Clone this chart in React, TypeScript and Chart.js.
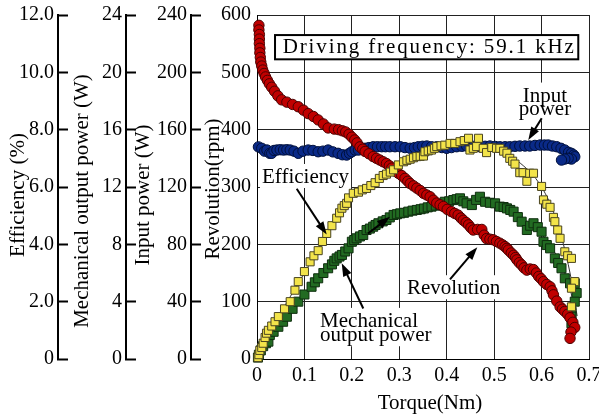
import React, { useEffect, useRef } from 'react';
import { Chart, registerables } from 'chart.js';

Chart.register(...registerables);

const FONT = "'Liberation Serif', 'Times New Roman', serif";

// ---------- tick labels ----------
const torqueTickLabels = ['0', '0.1', '0.2', '0.3', '0.4', '0.5', '0.6', '0.7'];
const efficiencyTickLabels = ['0', '2.0', '4.0', '6.0', '8.0', '10.0', '12.0'];
const mechTickLabels = ['0', '4', '8', '12', '16', '20', '24'];
const inputTickLabels = ['0', '40', '80', '120', '160', '200', '240'];
const revTickLabels = ['0', '100', '200', '300', '400', '500', '600'];

// ---------- measured data: [torque (Nm), value] ----------
const revolutionData: [number, number][] = [
  [0.004, 582], [0.004, 574], [0.005, 566], [0.005, 558], [0.005, 550], [0.006, 542], [0.006, 534],
  [0.007, 526], [0.008, 518], [0.010, 511], [0.012, 504], [0.015, 498], [0.018, 492], [0.022, 486],
  [0.026, 480], [0.031, 474], [0.037, 467], [0.044, 459], [0.052, 452], [0.063, 448], [0.075, 444],
  [0.087, 440], [0.098, 434], [0.108, 428], [0.119, 423], [0.129, 417], [0.140, 410], [0.150, 403],
  [0.163, 401], [0.172, 400], [0.180, 398], [0.187, 396], [0.194, 392], [0.200, 387], [0.206, 382],
  [0.211, 377], [0.217, 370], [0.223, 366], [0.228, 362], [0.236, 358], [0.245, 353], [0.252, 350],
  [0.259, 347], [0.266, 344], [0.273, 341], [0.279, 337], [0.284, 333], [0.291, 328], [0.298, 324],
  [0.305, 320], [0.312, 315], [0.318, 310], [0.323, 306], [0.330, 302], [0.337, 298], [0.344, 294],
  [0.351, 289], [0.358, 286], [0.365, 283], [0.372, 277], [0.379, 272], [0.386, 269], [0.393, 266],
  [0.401, 261], [0.410, 257], [0.417, 254], [0.424, 251], [0.430, 246], [0.435, 242], [0.441, 238],
  [0.446, 234], [0.451, 229], [0.456, 225], [0.465, 226], [0.474, 226], [0.479, 216], [0.484, 210],
  [0.491, 209], [0.498, 208], [0.505, 205], [0.512, 202], [0.518, 199], [0.523, 196], [0.527, 193],
  [0.530, 190], [0.536, 185], [0.541, 181], [0.545, 177], [0.548, 173], [0.553, 168], [0.558, 164],
  [0.563, 159], [0.569, 155], [0.576, 157], [0.583, 156], [0.589, 150], [0.594, 144], [0.599, 140],
  [0.604, 135], [0.611, 130], [0.618, 126], [0.622, 119], [0.625, 112], [0.632, 101], [0.639, 91],
  [0.644, 87], [0.649, 83], [0.655, 78], [0.660, 72], [0.666, 64], [0.670, 55], [0.662, 47], [0.660, 36],
];

const inputPowerData: [number, number][] = [
  [0.003, 148], [0.010, 147], [0.016, 145], [0.021, 145.8], [0.027, 143.5], [0.031, 143.5], [0.036, 145.5],
  [0.042, 145.8], [0.049, 146], [0.056, 145.8], [0.063, 146], [0.070, 145.8], [0.078, 145], [0.087, 143.5],
  [0.097, 145], [0.108, 145.8], [0.118, 145.5], [0.129, 144.6], [0.139, 145], [0.150, 145.8], [0.160, 144.5],
  [0.171, 143.5], [0.180, 142.5], [0.189, 142.3], [0.195, 143.5], [0.200, 144.6], [0.207, 145.8], [0.214, 145.8],
  [0.221, 147], [0.228, 147], [0.236, 147.5], [0.245, 148.1], [0.254, 148.1], [0.263, 148.1], [0.271, 148.1],
  [0.280, 148.1], [0.291, 148.1], [0.302, 148.1], [0.312, 147.5], [0.323, 147], [0.332, 147.5], [0.340, 148.1],
  [0.349, 148.4], [0.358, 148.6], [0.368, 148.1], [0.379, 148.1], [0.390, 147.5], [0.400, 147], [0.410, 147.5],
  [0.421, 148.1], [0.432, 148.4], [0.442, 148.6], [0.456, 148.3], [0.470, 148.1], [0.481, 148.4], [0.491, 148.6],
  [0.502, 148.3], [0.512, 148.1], [0.523, 148.1], [0.533, 148.1], [0.544, 148.4], [0.554, 148.6], [0.565, 148.6],
  [0.575, 148.6], [0.586, 149], [0.597, 149.3], [0.606, 149.3], [0.614, 149.3], [0.623, 148.6], [0.632, 148.1],
  [0.641, 147], [0.649, 145.8], [0.657, 144.2], [0.663, 143.5], [0.668, 142.3], [0.670, 141.1], [0.663, 139.5],
  [0.656, 140], [0.649, 139.5], [0.642, 138.8],
];

const efficiencyData: [number, number][] = [
  [0.002, 0.05], [0.004, 0.15], [0.006, 0.3], [0.010, 0.4], [0.013, 0.55], [0.017, 0.75], [0.020, 0.9],
  [0.024, 1.0], [0.031, 1.15], [0.038, 1.3], [0.045, 1.48], [0.058, 1.75], [0.070, 2.0], [0.080, 2.4],
  [0.087, 2.7], [0.100, 3.05], [0.112, 3.39], [0.120, 3.6], [0.129, 3.78], [0.138, 4.1], [0.147, 4.38],
  [0.158, 4.65], [0.168, 4.91], [0.174, 5.1], [0.179, 5.26], [0.184, 5.35], [0.189, 5.43], [0.193, 5.62],
  [0.203, 5.78], [0.214, 5.82], [0.222, 5.9], [0.231, 5.95], [0.240, 6.05], [0.249, 6.15], [0.258, 6.3],
  [0.266, 6.4], [0.273, 6.45], [0.281, 6.52], [0.288, 6.6], [0.298, 6.77], [0.309, 6.88], [0.316, 6.93],
  [0.323, 6.97], [0.330, 7.02], [0.337, 7.06], [0.344, 7.07], [0.351, 7.08], [0.354, 7.23], [0.361, 7.26],
  [0.368, 7.29], [0.374, 7.35], [0.379, 7.41], [0.388, 7.44], [0.396, 7.46], [0.407, 7.52], [0.417, 7.52],
  [0.428, 7.58], [0.437, 7.62], [0.446, 7.70], [0.449, 7.29], [0.456, 7.35], [0.463, 7.41], [0.467, 7.70],
  [0.477, 7.35], [0.484, 7.20], [0.495, 7.38], [0.505, 7.35], [0.512, 7.35], [0.520, 7.25], [0.527, 7.18],
  [0.533, 7.0], [0.539, 6.9], [0.544, 6.80], [0.554, 6.50], [0.561, 6.50], [0.569, 6.20], [0.575, 6.48],
  [0.583, 6.48], [0.600, 6.02], [0.604, 5.55], [0.611, 5.4], [0.618, 5.29], [0.625, 4.94], [0.628, 4.79],
  [0.634, 4.5], [0.639, 4.21], [0.649, 3.74], [0.655, 3.6], [0.663, 3.51], [0.670, 2.70], [0.663, 2.47],
  [0.663, 1.82],
];

const mechPowerData: [number, number][] = [
  [0.002, 0.1], [0.004, 0.3], [0.008, 0.6], [0.013, 0.9], [0.019, 1.1], [0.024, 1.21], [0.027, 1.67],
  [0.035, 1.9], [0.045, 2.25], [0.055, 2.6], [0.063, 2.95], [0.075, 3.5], [0.087, 4.0], [0.100, 4.5],
  [0.115, 5.04], [0.122, 5.35], [0.129, 5.63], [0.140, 6.0], [0.150, 6.33], [0.158, 6.6], [0.163, 6.85],
  [0.168, 7.02], [0.174, 7.15], [0.179, 7.26], [0.186, 7.5], [0.193, 7.72], [0.200, 8.18], [0.205, 8.3],
  [0.210, 8.42], [0.217, 8.55], [0.224, 8.65], [0.231, 9.0], [0.238, 9.1], [0.245, 9.23], [0.250, 9.35],
  [0.256, 9.47], [0.265, 9.6], [0.273, 9.70], [0.280, 9.88], [0.288, 10.05], [0.295, 10.1], [0.302, 10.16],
  [0.310, 10.2], [0.319, 10.28], [0.328, 10.35], [0.337, 10.4], [0.345, 10.45], [0.352, 10.5], [0.360, 10.58],
  [0.368, 10.63], [0.377, 10.7], [0.386, 10.74], [0.396, 10.97], [0.405, 11.0], [0.414, 11.09], [0.421, 11.15],
  [0.428, 11.21], [0.435, 11.0], [0.442, 10.86], [0.453, 10.74], [0.462, 11.1], [0.470, 11.32], [0.481, 10.97],
  [0.491, 10.9], [0.502, 10.86], [0.512, 10.63], [0.520, 10.6], [0.527, 10.51], [0.534, 10.4], [0.541, 10.28],
  [0.550, 9.9], [0.558, 9.58], [0.569, 9.0], [0.576, 9.3], [0.583, 9.47], [0.592, 9.2], [0.600, 8.88],
  [0.604, 8.18], [0.611, 7.95], [0.618, 7.72], [0.628, 7.02], [0.635, 6.7], [0.642, 6.33], [0.649, 5.63],
  [0.660, 5.28], [0.670, 5.28], [0.674, 4.6], [0.670, 4.0], [0.663, 3.30], [0.663, 2.95], [0.663, 2.49],
];

// thin fitted curves
const revolutionFit: [number, number][] = [
  [0.004, 585], [0.006, 540], [0.010, 512], [0.020, 490], [0.040, 465], [0.070, 446], [0.100, 432],
  [0.150, 410], [0.200, 386], [0.250, 352], [0.300, 322], [0.350, 291], [0.400, 262], [0.450, 233],
  [0.500, 205], [0.550, 172], [0.600, 137], [0.630, 108], [0.650, 82], [0.665, 50],
];
const efficiencyFit: [number, number][] = [
  [0, 0], [0.05, 1.6], [0.10, 3.0], [0.15, 4.4], [0.20, 5.6], [0.25, 6.3], [0.30, 6.8], [0.35, 7.2],
  [0.40, 7.45], [0.45, 7.5], [0.50, 7.35], [0.55, 6.9], [0.60, 6.0], [0.63, 4.9], [0.66, 3.0], [0.675, 1.5],
];
const mechPowerFit: [number, number][] = [
  [0, 0], [0.05, 2.4], [0.10, 4.6], [0.15, 6.4], [0.20, 8.0], [0.25, 9.3], [0.30, 10.1], [0.35, 10.6],
  [0.40, 10.95], [0.45, 11.0], [0.50, 10.8], [0.55, 10.0], [0.60, 8.7], [0.63, 7.3], [0.66, 4.9], [0.675, 2.5],
];
const inputPowerFit: [number, number][] = [
  [0, 147], [0.10, 145.5], [0.20, 145.5], [0.30, 147.5], [0.40, 147.8], [0.50, 148.2], [0.60, 148.5],
  [0.65, 146], [0.67, 142],
];

const toXY = (arr: [number, number][]) => arr.map(([x, y]) => ({ x, y }));

const tickFont = { family: FONT, size: 20 };

function extraAxis(min: number, max: number, step: number, labels: string[], width: number, weight: number) {
  return {
    type: 'linear',
    position: 'left',
    weight,
    min,
    max,
    ticks: {
      stepSize: step,
      padding: 14,
      color: '#000',
      font: tickFont,
      callback: (v: number, i: number) => labels[i] ?? String(v),
    },
    grid: { drawOnChartArea: false, drawTicks: true, tickLength: -10, tickWidth: 2, tickColor: '#000' },
    border: { display: true, color: '#000', width: 2 },
    afterFit: (s: any) => {
      s.width = width;
      s.paddingTop = 0;
      s.paddingBottom = 0;
    },
  };
}

function drawArrow(ctx: CanvasRenderingContext2D, x1: number, y1: number, x2: number, y2: number) {
  const ang = Math.atan2(y2 - y1, x2 - x1);
  const len = 13;
  const half = 4.5;
  ctx.strokeStyle = '#000';
  ctx.fillStyle = '#000';
  ctx.lineWidth = 2;
  ctx.beginPath();
  ctx.moveTo(x1, y1);
  ctx.lineTo(x2 - Math.cos(ang) * len * 0.8, y2 - Math.sin(ang) * len * 0.8);
  ctx.stroke();
  ctx.beginPath();
  ctx.moveTo(x2, y2);
  ctx.lineTo(x2 - len * Math.cos(ang) + half * Math.sin(ang), y2 - len * Math.sin(ang) - half * Math.cos(ang));
  ctx.lineTo(x2 - len * Math.cos(ang) - half * Math.sin(ang), y2 - len * Math.sin(ang) + half * Math.cos(ang));
  ctx.closePath();
  ctx.fill();
}

const decorPlugin = {
  id: 'decor',
  afterDraw(chart: any) {
    const ctx: CanvasRenderingContext2D = chart.ctx;
    const xs = chart.scales.x;
    const ys = chart.scales.yRev;
    const px = (t: number) => xs.getPixelForValue(t);
    const py = (r: number) => ys.getPixelForValue(r);
    const area = chart.chartArea;
    const midY = (area.top + area.bottom) / 2;
    ctx.save();

    // axis titles
    const titleFont = `21px ${FONT}`;
    ctx.font = titleFont;
    ctx.fillStyle = '#000';
    ctx.textAlign = 'center';
    ctx.textBaseline = 'middle';
    const vTitle = (text: string, x: number, y: number) => {
      ctx.save();
      ctx.translate(x, y);
      ctx.rotate(-Math.PI / 2);
      ctx.fillText(text, 0, 0);
      ctx.restore();
    };
    vTitle('Efficiency (%)', chart.scales.yEff.left + 18.5, midY + 8);
    vTitle('Mechanical output power (W)', chart.scales.yMech.left + 24.5, midY + 14);
    vTitle('Input power (W)', chart.scales.yIn.left + 17.5, midY + 8);
    vTitle('Revolution(rpm)', chart.scales.yRev.left + 22.5, midY + 2);
    ctx.fillText('Torque(Nm)', (area.left + area.right) / 2 + 7, 403);

    // labels with white background
    ctx.textAlign = 'left';
    ctx.textBaseline = 'alphabetic';
    const label = (lines: string[], x: number, baselines: number[], align: CanvasTextAlign) => {
      ctx.textAlign = align;
      let minX = Infinity, maxX = -Infinity;
      lines.forEach((l) => {
        const w = ctx.measureText(l).width;
        const lx = align === 'center' ? x - w / 2 : x;
        minX = Math.min(minX, lx);
        maxX = Math.max(maxX, lx + w);
      });
      ctx.fillStyle = '#fff';
      const top = Math.min(...baselines) - 19;
      const bottom = Math.max(...baselines) + 5;
      ctx.fillRect(minX - 2, top, maxX - minX + 4, bottom - top);
      ctx.fillStyle = '#000';
      lines.forEach((l, i) => ctx.fillText(l, x, baselines[i]));
    };
    label(['Efficiency'], px(0.0105), [py(307)], 'left');
    label(['Input', 'power'], px(0.607), [py(449), py(425)], 'center');
    label(['Mechanical', 'output power'], px(0.133), [py(56), py(31)], 'left');
    label(['Revolution'], px(0.3163), [py(113)], 'left');

    // arrows
    drawArrow(ctx, px(0.0837), py(297), px(0.147), py(217));
    drawArrow(ctx, px(0.6003), py(420), px(0.572), py(382));
    drawArrow(ctx, px(0.2241), py(88), px(0.1786), py(167));
    drawArrow(ctx, px(0.234), py(219), px(0.2804), py(248));
    drawArrow(ctx, px(0.4069), py(139), px(0.4645), py(195));

    // frequency box
    const bx1 = px(0.038), bx2 = px(0.6774), by1 = py(565), by2 = py(522.7);
    ctx.fillStyle = '#fff';
    ctx.fillRect(bx1, by1, bx2 - bx1, by2 - by1);
    ctx.strokeStyle = '#000';
    ctx.lineWidth = 2;
    ctx.strokeRect(bx1, by1, bx2 - bx1, by2 - by1);
    const boxText = 'Driving frequency: 59.1 kHz';
    ctx.font = titleFont;
    ctx.textAlign = 'left';
    ctx.fillStyle = '#000';
    const target = px(0.6683) - px(0.0542);
    const w0 = ctx.measureText(boxText).width;
    const c: any = ctx;
    if ('letterSpacing' in c) {
      c.letterSpacing = `${Math.max(0, (target - w0) / (boxText.length - 1)).toFixed(2)}px`;
    }
    ctx.fillText(boxText, px(0.0542), py(533));
    if ('letterSpacing' in c) c.letterSpacing = '0px';

    ctx.restore();
  },
};

export default function App() {
  const ref = useRef<HTMLCanvasElement>(null);
  useEffect(() => {
    if (!ref.current) return;
    const pointCommon = { showLine: false, borderWidth: 1, clip: false as any };
    const fitCommon = {
      showLine: true,
      pointRadius: 0,
      borderWidth: 1,
      borderColor: '#333',
      backgroundColor: 'transparent',
      cubicInterpolationMode: 'monotone' as const,
      clip: false as any,
    };
    const chart = new Chart(ref.current, {
      type: 'scatter',
      data: {
        datasets: [
          { ...pointCommon, label: 'Efficiency', data: toXY(efficiencyData), yAxisID: 'yEff', pointStyle: 'rect', pointRadius: 5.7, backgroundColor: '#f3e44a', borderColor: '#4a4520', order: 1 },
          { ...pointCommon, label: 'Revolution', data: toXY(revolutionData), yAxisID: 'yRev', pointStyle: 'circle', pointRadius: 5.2, backgroundColor: '#c00000', borderColor: '#4a0000', order: 2 },
          { ...pointCommon, label: 'Mechanical output power', data: toXY(mechPowerData), yAxisID: 'yMech', pointStyle: 'rect', pointRadius: 6.4, backgroundColor: '#226b22', borderColor: '#0e2e0e', order: 3 },
          { ...pointCommon, label: 'Input power', data: toXY(inputPowerData), yAxisID: 'yIn', pointStyle: 'circle', pointRadius: 5.2, backgroundColor: '#0a2a88', borderColor: '#00103c', order: 4 },
          { ...fitCommon, label: 'Revolution fit', data: toXY(revolutionFit), yAxisID: 'yRev', order: 5 },
          { ...fitCommon, label: 'Efficiency fit', data: toXY(efficiencyFit), yAxisID: 'yEff', order: 6 },
          { ...fitCommon, label: 'Mech fit', data: toXY(mechPowerFit), yAxisID: 'yMech', order: 7 },
          { ...fitCommon, label: 'Input fit', data: toXY(inputPowerFit), yAxisID: 'yIn', order: 8 },
        ] as any,
      },
      options: {
        responsive: false,
        animation: false,
        devicePixelRatio: 1,
        events: [],
        layout: { padding: { top: 15, right: 10, bottom: 0, left: 0 } },
        plugins: { legend: { display: false }, tooltip: { enabled: false } },
        scales: {
          x: {
            type: 'linear',
            position: 'bottom',
            min: 0,
            max: 0.7,
            ticks: {
              stepSize: 0.1,
              padding: 5,
              color: '#000',
              font: tickFont,
              maxRotation: 0,
              autoSkip: false,
              callback: (v: any, i: number) => torqueTickLabels[i] ?? String(v),
            },
            grid: { color: '#222', lineWidth: 1, drawTicks: false },
            border: { color: '#000', width: 1 },
            afterFit: (s: any) => {
              s.height = 55;
              s.paddingLeft = 0;
              s.paddingRight = 0;
            },
          },
          yRev: {
            type: 'linear',
            position: 'left',
            weight: 0,
            min: 0,
            max: 600,
            ticks: {
              stepSize: 100,
              padding: 6,
              color: '#000',
              font: tickFont,
              callback: (v: any, i: number) => revTickLabels[i] ?? String(v),
            },
            grid: { color: '#222', lineWidth: 1, drawTicks: false },
            border: { color: '#000', width: 1 },
            afterFit: (s: any) => {
              s.width = 66;
              s.paddingTop = 0;
              s.paddingBottom = 0;
            },
          },
          yIn: extraAxis(0, 240, 40, inputTickLabels, 65, 1),
          yMech: extraAxis(0, 24, 4, mechTickLabels, 68, 2),
          yEff: extraAxis(0, 12, 2, efficiencyTickLabels, 58, 3),
        } as any,
      },
      plugins: [decorPlugin],
    });
    return () => chart.destroy();
  }, []);
  return (
    <div style={{ position: 'absolute', left: 0, top: 0, width: 599, height: 414, background: '#fff' }}>
      <canvas ref={ref} width={599} height={414} style={{ display: 'block' }} />
    </div>
  );
}
